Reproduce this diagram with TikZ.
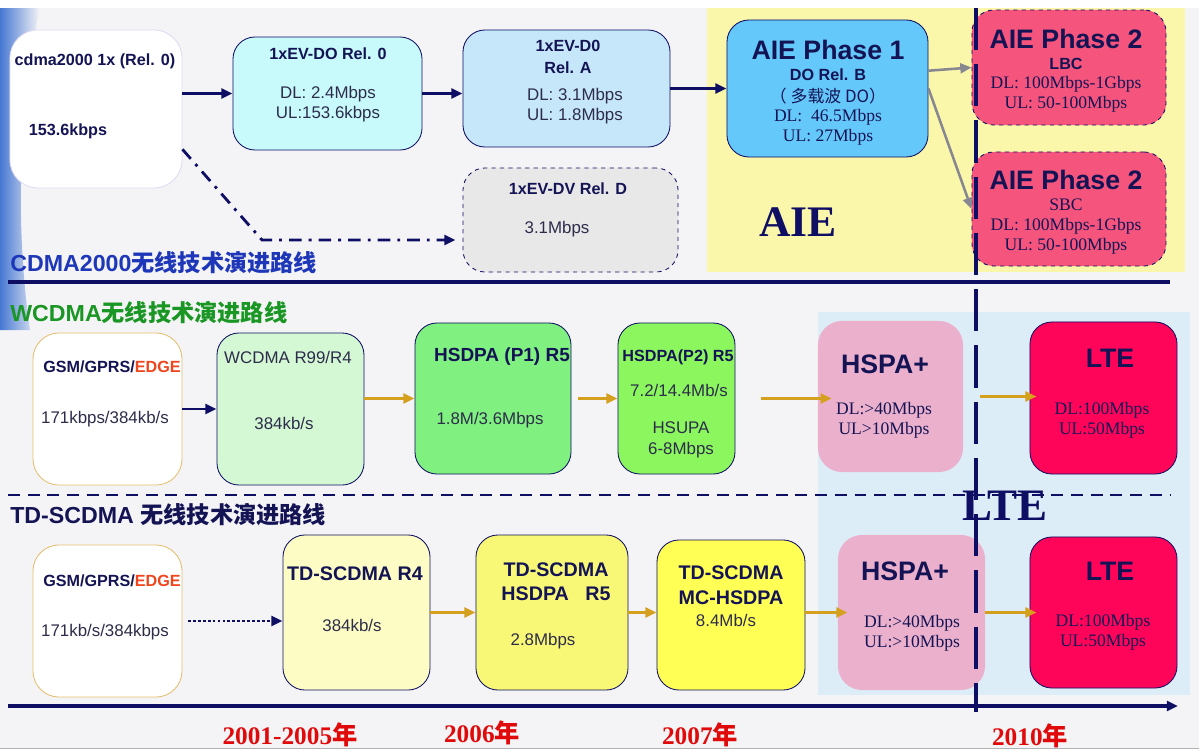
\documentclass[tikz,border=0pt]{standalone}
\usepackage{fontspec}
\setmainfont{Liberation Serif}
\setsansfont{Liberation Sans}
\newfontfamily\cjk{Noto Sans CJK SC}
\usetikzlibrary{arrows.meta}

\definecolor{navy}{RGB}{14,14,100}
\definecolor{ttlc}{RGB}{20,20,85}
\definecolor{valc}{RGB}{45,45,75}
\definecolor{cdmablue}{RGB}{30,55,185}
\definecolor{wgreen}{RGB}{25,150,35}
\definecolor{edgered}{RGB}{240,70,30}
\definecolor{yearred}{RGB}{225,10,10}
\definecolor{gold}{RGB}{212,160,30}
\definecolor{arrgray}{RGB}{135,135,145}
\definecolor{lav}{RGB}{222,218,240}
\definecolor{cyanA}{RGB}{200,250,252}
\definecolor{blueA}{RGB}{198,230,250}
\definecolor{grayD}{RGB}{232,232,232}
\definecolor{skyB}{RGB}{100,200,250}
\definecolor{pinkC}{RGB}{245,85,125}
\definecolor{aieyel}{RGB}{250,246,170}
\definecolor{lteblue}{RGB}{220,237,247}
\definecolor{gsmgold}{RGB}{228,190,110}
\definecolor{greenA}{RGB}{212,248,212}
\definecolor{greenB}{RGB}{128,240,128}
\definecolor{greenC}{RGB}{140,246,95}
\definecolor{hspapink}{RGB}{234,176,204}
\definecolor{lteR}{RGB}{255,5,90}
\definecolor{yelA}{RGB}{252,252,196}
\definecolor{yelB}{RGB}{248,248,118}
\definecolor{yelC}{RGB}{255,255,85}
\definecolor{bggray}{RGB}{244,244,246}
\definecolor{swblue}{RGB}{70,120,210}

\begin{document}
\begin{tikzpicture}[
		x=0.025cm, y=-0.025cm,
		box/.style={rectangle, rounded corners=0.55cm, draw=navy, line width=0.6pt},
		dbox/.style={box, dashed},
		pinkbox/.style={rectangle, rounded corners=0.6cm, fill=hspapink},
		txt/.style={inner sep=0pt, text=valc, align=center, font=\sffamily\fontsize{12}{14.2}\selectfont},
		ttl/.style={inner sep=0pt, text=ttlc, align=center, font=\sffamily\bfseries\fontsize{11.5}{15.6}\selectfont},
		hdr/.style={inner sep=0pt, text=ttlc, font=\sffamily\bfseries\fontsize{19}{22}\selectfont},
		srf/.style={inner sep=0pt, text=ttlc, align=center, font=\rmfamily\fontsize{12.5}{14.2}\selectfont},
		sect/.style={inner sep=0pt, anchor=west, font=\sffamily\bfseries\fontsize{16.5}{20}\selectfont},
		year/.style={inner sep=0pt, text=yearred, font=\rmfamily\bfseries\fontsize{18}{20}\selectfont},
		navyarr/.style={-{Triangle[length=8pt,width=7pt]}, line width=2pt, draw=navy},
		goldarr/.style={-{Triangle[length=8pt,width=7pt]}, line width=2pt, draw=gold},
		grayarr/.style={-{Triangle[length=8pt,width=7pt]}, line width=1.8pt, draw=arrgray}
	]
  \useasboundingbox (0,0) rectangle (1199,751);
  \fill [white] (0,0) rectangle (1199,751);
  \fill [bggray] (0,8) rectangle (1199,748);
  \shade [left color=swblue, right color=bggray] (0,8) -- (40,8) .. controls (20,100) and (14,220) .. (30,330) -- (0,330) -- cycle;
  \fill [aieyel] (707,8) rectangle (1185,272);
  \fill [lteblue] (818,312) rectangle (1190,695);

  % section lines
  \draw [navy, line width=2.2pt] (8,282) -- (1170,282);
  \draw [navy, line width=1.8pt, dash pattern=on 8.5pt off 5.5pt] (8,495) -- (1170,495);
  \draw [gray!60, line width=0.6pt] (0,748) -- (1199,748);

  \node (t_cdma) [sect, text=cdmablue] at (10,263) {CDMA2000{\cjk 无线技术演进路线}};
  \node (t_wcdma) [sect, text=wgreen] at (10,313) {WCDMA{\cjk 无线技术演进路线}};
  \node (t_td) [sect, text=ttlc] at (10,515) {TD-SCDMA {\cjk 无线技术演进路线}};

  % CDMA2000 row
  \node (cdma) [box, draw=lav, fill=white, rounded corners=0.7cm, minimum width=4.3cm, minimum height=3.95cm] at (96,109) {};
  \node (evdo0) [box, fill=cyanA, minimum width=4.725cm, minimum height=2.825cm] at (327.5,93.5) {};
  \node (evdoA) [box, fill=blueA, minimum width=5.175cm, minimum height=2.925cm] at (566.5,88.5) {};
  \node (evdv) [dbox, fill=grayD, minimum width=5.375cm, minimum height=2.6cm] at (570.5,220) {};
  \node (aie1) [box, fill=skyB, minimum width=5.025cm, minimum height=3.425cm] at (827.5,88.5) {};
  \node (lbc) [dbox, fill=pinkC, minimum width=4.85cm, minimum height=2.875cm] at (1069,67.5) {};
  \node (sbc) [dbox, fill=pinkC, minimum width=4.85cm, minimum height=2.85cm] at (1069,209) {};

  \node (t_cdma1) [ttl] at (95,61) {cdma2000 1x (Rel. 0)};
  \node (t_cdma2) [ttl] at (68,131) {153.6kbps};
  \node (t_evdo0a) [ttl] at (328,54) {1xEV-DO Rel. 0};
  \node (t_evdo0b) [txt] at (328,104) {DL: 2.4Mbps\\UL:153.6kbps};
  \node (t_evdoAa) [ttl] at (568,57) {1xEV-D0\\Rel. A};
  \node (t_evdoAb) [txt] at (575,106) {DL: 3.1Mbps\\UL: 1.8Mbps};
  \node (t_evdv1) [ttl] at (568,189) {1xEV-DV Rel. D};
  \node (t_evdv2) [txt] at (557,229) {3.1Mbps};
  \node (t_aie1a) [hdr] at (828,50) {AIE Phase 1};
  \node (t_aie1b) [ttl] at (828,75) {DO Rel. B};
  \node (t_aie1c) [txt, text=ttlc] at (828,96) {\cjk （ 多载波 DO）};
  \node (t_aie1d) [srf] at (828,127) {DL:~~46.5Mbps\\UL: 27Mbps};
  \node (t_lbc1) [hdr] at (1066,39) {AIE Phase 2};
  \node (t_lbc2) [ttl] at (1066,64) {LBC};
  \node (t_lbc3) [srf] at (1066,94) {DL: 100Mbps-1Gbps\\UL: 50-100Mbps};
  \node (t_sbc1) [hdr] at (1066,180) {AIE Phase 2};
  \node (t_sbc2) [srf] at (1066,205) {SBC};
  \node (t_sbc3) [srf] at (1066,236) {DL: 100Mbps-1Gbps\\UL: 50-100Mbps};
  \node (t_aie) [inner sep=0pt, text=navy, font=\rmfamily\bfseries\fontsize{31}{34}\selectfont] at (798,222) {AIE};

  \coordinate (dvbend) at (262,240);
  \draw [navyarr] (cdma.east |- evdo0.west) -- (evdo0.west);
  \draw [navyarr] (evdo0.east) -- (evdo0.east -| evdoA.west);
  \draw [navyarr] (evdoA.east) -- (aie1.west);
  \draw [grayarr] (aie1.10) -- (lbc.west);
  \draw [grayarr] (aie1.east) -- (sbc.west);
  \draw [navyarr, dash pattern=on 9pt off 5pt on 2pt off 5pt, shorten >=5pt] (cdma.-25) -- (dvbend) -- (dvbend -| evdv.west);

  % WCDMA row
  \node (gsmW) [box, draw=gsmgold, fill=white, rounded corners=0.65cm, minimum width=3.725cm, minimum height=3.8cm] at (107.5,409) {};
  \node (r99) [box, fill=greenA, minimum width=3.675cm, minimum height=3.8cm] at (290.5,409) {};
  \node (p1) [box, fill=greenB, minimum width=3.9cm, minimum height=3.775cm] at (493,398.5) {};
  \node (p2) [box, fill=greenC, minimum width=2.925cm, minimum height=3.775cm] at (676.5,398.5) {};
  \node (hspaW) [pinkbox, minimum width=3.625cm, minimum height=3.775cm] at (890.5,396.5) {};
  \node (lteW) [box, fill=lteR, minimum width=3.675cm, minimum height=3.8cm] at (1103.5,398) {};

  \node (t_gsmW1) [ttl] at (112,367) {GSM/GPRS/\textcolor{edgered}{EDGE}};
  \node (t_gsmW2) [txt] at (105,419) {171kbps/384kb/s};
  \node (t_r99a) [txt] at (288,357) {WCDMA R99/R4};
  \node (t_r99b) [txt] at (284,423) {384kb/s};
  \node (t_p1a) [ttl, font=\sffamily\bfseries\fontsize{13.5}{16}\selectfont] at (502,357) {HSDPA (P1) R5};
  \node (t_p1b) [txt] at (490,420) {1.8M/3.6Mbps};
  \node (t_p2a) [ttl] at (678,357) {HSDPA(P2) R5};
  \node (t_p2b) [txt] at (679,390) {7.2/14.4Mb/s};
  \node (t_p2c) [txt, font=\sffamily\fontsize{12}{15}\selectfont] at (681,440) {HSUPA\\6-8Mbps};
  \node (t_hspaW1) [hdr] at (885,364) {HSPA+};
  \node (t_hspaW2) [srf] at (884,420) {DL:>40Mbps\\UL>10Mbps};
  \node (t_lteW1) [hdr] at (1110,358) {LTE};
  \node (t_lteW2) [srf] at (1102,420) {DL:100Mbps\\UL:50Mbps};

  \draw [navyarr] (gsmW.east) -- (gsmW.east -| r99.west);
  \draw [goldarr] (p1.west -| r99.east) -- (p1.west);
  \draw [goldarr, shorten <=5pt] (p1.east) -- (p2.west);
  \draw [goldarr, shorten <=18pt, shorten >=-10pt] (p2.east) -- (hspaW.west |- p2.east);
  \draw [goldarr, shorten <=12pt, shorten >=-5pt] (hspaW.east) -- (lteW.west |- hspaW.east);

  % TD-SCDMA row
  \node (gsmT) [box, draw=gsmgold, fill=white, rounded corners=0.65cm, minimum width=3.725cm, minimum height=3.8cm] at (107.5,621) {};
  \node (r4) [box, fill=yelA, minimum width=3.675cm, minimum height=3.875cm] at (356.5,612.5) {};
  \node (tdh) [box, fill=yelB, minimum width=3.8cm, minimum height=3.875cm] at (552,612.5) {};
  \node (mc) [box, fill=yelC, minimum width=3.7cm, minimum height=3.75cm] at (731,615) {};
  \node (hspaT) [pinkbox, minimum width=3.675cm, minimum height=3.875cm] at (911.5,612.5) {};
  \node (lteT) [box, fill=lteR, minimum width=3.675cm, minimum height=3.775cm] at (1103.5,612.5) {};

  \node (t_gsmT1) [ttl] at (112,581) {GSM/GPRS/\textcolor{edgered}{EDGE}};
  \node (t_gsmT2) [txt] at (105,632) {171kb/s/384kbps};
  \node (t_r4a) [ttl, font=\sffamily\bfseries\fontsize{14}{17}\selectfont] at (355,574) {TD-SCDMA R4};
  \node (t_r4b) [txt] at (352,625) {384kb/s};
  \node (t_tdh1) [ttl, font=\sffamily\bfseries\fontsize{14}{17}\selectfont] at (556,582) {TD-SCDMA\\HSDPA~~~R5};
  \node (t_tdh2) [txt] at (543,641) {2.8Mbps};
  \node (t_mc1) [ttl, font=\sffamily\bfseries\fontsize{14}{17.5}\selectfont] at (731,585) {TD-SCDMA\\MC-HSDPA};
  \node (t_mc2) [txt] at (726,620) {8.4Mb/s};
  \node (t_hspaT1) [hdr] at (905,571) {HSPA+};
  \node (t_hspaT2) [srf] at (912,633) {DL:>40Mbps\\UL:>10Mbps};
  \node (t_lteT1) [hdr] at (1110,571) {LTE};
  \node (t_lteT2) [srf] at (1103,632) {DL:100Mbps\\UL:50Mbps};

  \draw [navyarr, dash pattern=on 2pt off 1.5pt, shorten <=4pt] (gsmT.east) -- (gsmT.east -| r4.west);
  \draw [goldarr] (r4.east) -- (tdh.west);
  \draw [goldarr] (tdh.east) -- (mc.west |- tdh.east);
  \draw [goldarr, shorten >=-7pt] (mc.east |- hspaT.west) -- (hspaT.west);
  \draw [goldarr, shorten >=-5pt] (hspaT.east) -- (lteT.west);

  % time line
  \draw [navy, line width=2.8pt, dash pattern=on 30pt off 10pt] (976,8) -- (976,712);
  \node (t_lte) [inner sep=0pt, text=navy, font=\rmfamily\bfseries\fontsize{32}{34}\selectfont] at (1005,506) {LTE};
  \coordinate (ax0) at (8,706);
  \coordinate (ax1) at (1178,706);
  \draw [navyarr, line width=2.6pt] (ax0) -- (ax1);
  \node (y1) [year] at (290,735) {2001-2005{\cjk 年}};
  \node (y2) [year] at (482,733) {2006{\cjk 年}};
  \node (y3) [year] at (700,735) {2007{\cjk 年}};
  \node (y4) [year] at (1030,736) {2010{\cjk 年}};
\end{tikzpicture}
\end{document}
